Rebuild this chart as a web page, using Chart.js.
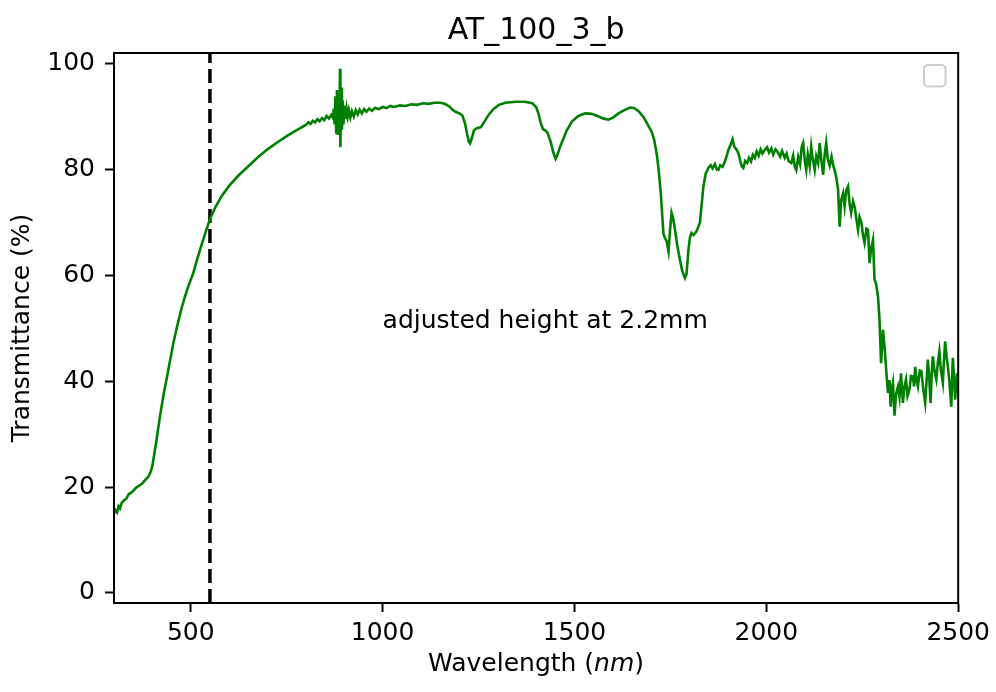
<!DOCTYPE html>
<html>
<head>
<meta charset="utf-8">
<title>AT_100_3_b</title>
<script src="https://cdn.jsdelivr.net/npm/chart.js@4.4.1/dist/chart.umd.min.js"></script>
<style>
  html, body { margin: 0; padding: 0; background: #fff; }
  canvas { display: block; }
</style>
</head>
<body>
<canvas id="grafico" width="996" height="692"></canvas>
<script>
// Dados (comprimento de onda em nm, transmitância em %)
const wavelength = [
  300, 304, 308, 312, 316, 320, 326, 332, 338, 344, 350, 358, 366, 374, 382, 390, 396,
  400, 410, 420, 430, 436, 445, 455, 465, 475, 485, 495, 506, 515, 525, 537, 550,
  565, 580, 600, 625, 650, 675, 700, 725, 750, 775,
  800, 806, 812, 818, 824, 830, 836, 842, 848, 854, 860, 866,
  870, 873, 875, 877, 879, 881, 883, 885, 887, 889, 890, 892, 894, 896, 898, 900,
  903, 906, 909, 912, 916, 920, 925, 930, 935, 940, 946, 952, 958, 965, 972, 980, 990,
  1000, 1010, 1020, 1030, 1045, 1060, 1075, 1090, 1105, 1120, 1135, 1150, 1162, 1174,
  1182, 1190, 1200, 1208, 1215, 1220, 1225, 1228, 1232, 1238, 1246, 1256, 1265, 1277,
  1290, 1303, 1320, 1347, 1370, 1390, 1400, 1406, 1412, 1418, 1424, 1430, 1438, 1445,
  1451, 1456, 1462, 1470, 1480, 1494, 1510, 1528, 1545, 1563, 1576, 1589, 1600, 1615,
  1630, 1645, 1655, 1667, 1680, 1690, 1702, 1708, 1715, 1720, 1725, 1729, 1732, 1736,
  1740, 1745, 1749, 1753, 1757, 1762, 1768, 1775, 1781, 1788, 1792, 1797, 1801, 1805,
  1810, 1818, 1823, 1827, 1831, 1836, 1842, 1849, 1855, 1860, 1866, 1871, 1875, 1880,
  1886, 1892, 1897, 1901, 1906, 1912, 1917, 1922, 1927, 1932, 1936, 1940, 1945, 1950,
  1955, 1960, 1965, 1970, 1975, 1980, 1985, 1990, 1996, 2002, 2007, 2013, 2018, 2024,
  2031, 2036, 2041, 2048, 2053, 2058, 2065, 2070, 2074, 2078, 2083, 2088, 2092, 2096,
  2100, 2104, 2108, 2113, 2117, 2121, 2126, 2130, 2135, 2139, 2143, 2148, 2152, 2156,
  2160, 2165, 2170, 2174, 2178, 2183, 2187, 2191, 2195, 2200, 2204, 2208, 2213, 2217,
  2221, 2226, 2230, 2235, 2239, 2243, 2248, 2252, 2256, 2261, 2265, 2269, 2273, 2278,
  2282, 2286, 2291, 2295, 2299, 2304, 2308, 2313, 2317, 2321, 2324, 2327, 2330, 2334,
  2338, 2343, 2347, 2351, 2356, 2360, 2364, 2368, 2373, 2377, 2382, 2385, 2388, 2392,
  2395, 2400, 2404, 2409, 2414, 2418, 2421, 2425, 2428, 2431, 2434, 2438, 2443, 2447,
  2451, 2455, 2460, 2463, 2466, 2470, 2473, 2477, 2482, 2486, 2489, 2492, 2495, 2497, 2500
];

const transmittance = [
  15.0, 15.6, 15.2, 16.4, 16.0, 17.0, 17.5, 17.8, 18.6, 18.9, 19.3, 19.9, 20.3, 20.7, 21.4, 22.0, 23.0,
  24.0, 28.5, 33.5, 37.8, 40.0, 43.5, 47.3, 50.5, 53.5, 56.0, 58.2, 60.3, 62.6, 65.0, 67.8, 70.6,
  73.0, 74.9, 76.9, 78.9, 80.6, 82.3, 83.8, 85.1, 86.3, 87.4,
  88.4, 88.9, 88.6, 89.2, 88.9, 89.5, 89.1, 89.7, 89.3, 90.1, 89.6, 90.3,
  89.8, 91.5, 88.5, 93.8, 87.0, 95.0, 86.5, 94.5, 88.0, 99.0, 84.2, 95.5, 87.5, 93.0, 88.5, 92.0,
  89.5, 91.5, 90.0, 91.2, 89.8, 91.0, 90.0, 91.2, 90.4, 91.3, 90.6, 91.4, 90.9, 91.5, 91.1, 91.6, 91.4,
  91.8, 91.6, 92.0, 91.8, 92.1, 92.0, 92.3, 92.2, 92.5, 92.4, 92.6, 92.6, 92.4, 91.9,
  91.3, 90.9, 90.6, 90.2, 88.6, 86.8, 85.2, 84.9, 85.8, 87.4, 87.8, 88.0, 89.0, 90.4,
  91.5, 92.2, 92.6, 92.8, 92.8, 92.5, 91.8, 90.6, 88.8, 87.6, 87.4, 86.9, 85.2, 83.2,
  82.0, 82.8, 84.2, 85.6, 87.4, 89.1, 90.1, 90.6, 90.5, 90.0, 89.6, 89.4, 89.8, 90.6,
  91.2, 91.7, 91.6, 91.0, 89.9, 88.6, 87.0, 85.5, 82.6, 79.5, 75.5, 71.0, 67.8, 67.0,
  66.5, 64.5, 68.5, 71.8, 70.8, 68.6, 65.6, 62.9, 60.8, 59.5, 60.2, 64.8, 67.2, 68.0,
  67.6, 68.3, 69.2, 70.0, 73.0, 76.8, 79.2, 80.3, 80.8, 80.2, 81.0, 80.0, 79.9, 80.8,
  80.5, 81.5, 82.6, 83.7, 84.5, 85.7, 84.2, 83.8, 83.1, 81.6, 80.6, 80.3, 81.6, 81.2,
  82.2, 81.5, 82.8, 82.2, 83.4, 82.6, 83.8, 83.0, 83.7, 84.2, 83.2, 84.0, 82.8, 83.8,
  83.1, 82.4, 83.5, 82.2, 83.0, 81.6, 81.2, 82.6, 80.6, 79.9, 82.4, 81.0, 84.2, 85.0,
  81.8, 79.9, 82.8, 80.6, 84.3, 82.0, 79.9, 82.5, 81.2, 85.0, 82.0, 79.0, 82.8, 85.0,
  82.0, 80.7, 82.4, 80.8, 79.9, 78.2, 76.2, 69.2, 74.2, 75.5, 73.0, 76.0, 76.8, 73.5,
  71.8, 74.0, 73.0, 70.5, 68.6, 71.0, 69.9, 67.5, 66.1, 68.8, 68.6, 62.3, 65.0, 66.7,
  59.2, 58.4, 56.0, 51.6, 43.4, 49.7, 46.6, 41.5, 37.8, 40.2, 35.2, 38.5, 39.7, 33.5,
  37.5, 39.0, 37.0, 41.5, 35.9, 39.0, 40.3, 37.2, 38.4, 41.0, 40.9, 39.0, 42.7, 40.0,
  39.0, 42.0, 41.9, 38.5, 35.9, 40.5, 44.1, 40.0, 35.9, 41.5, 44.7, 42.0, 40.3, 43.5,
  45.6, 42.0, 39.7, 44.0, 47.5, 44.5, 42.8, 40.0, 35.2, 44.4, 41.0, 36.5, 39.5, 41.5, 37.8
];

const xTicks = [500, 1000, 1500, 2000, 2500];
const yTicks = [0, 20, 40, 60, 80, 100];
const corteNm = 550; // linha tracejada vertical
const nota = 'adjusted height at 2.2mm';
const notaX = 1000;
const notaY = 50;

const xMin = 300, xMax = 2500;
const yMin = -1.9, yMax = 102;

const FONTE = 'DejaVu Sans';
const TAM = 25; // tamanho da fonte dos rótulos
Chart.defaults.font.family = FONTE;
Chart.defaults.color = '#000';

const pontos = wavelength.map((w, i) => ({ x: w, y: transmittance[i] }));

// Desenha moldura, legenda vazia, nota e título do eixo x (com "nm" em itálico)
const extras = {
  id: 'extras',
  afterDatasetsDraw(chart) {
    const { ctx, scales } = chart;
    ctx.save();
    ctx.font = TAM + 'px ' + FONTE;
    ctx.fillStyle = '#000';
    ctx.textAlign = 'left';
    ctx.textBaseline = 'alphabetic';
    ctx.fillText(nota, scales.x.getPixelForValue(notaX), scales.y.getPixelForValue(notaY));
    ctx.restore();
  },
  afterDraw(chart) {
    const { ctx, chartArea: a } = chart;
    ctx.save();
    // legenda vazia
    const lw = 21.5, lh = 21.5, r = 4;
    const lx = a.right - 12.7 - lw, ly = a.top + 12;
    ctx.beginPath();
    ctx.roundRect(lx, ly, lw, lh, r);
    ctx.fillStyle = 'rgba(255,255,255,0.8)';
    ctx.fill();
    ctx.strokeStyle = '#cccccc';
    ctx.lineWidth = 2;
    ctx.stroke();

    // moldura
    ctx.strokeStyle = '#000';
    ctx.lineWidth = 2;
    ctx.strokeRect(a.left, a.top, a.right - a.left, a.bottom - a.top);

    // título eixo x
    const p1 = 'Wavelength (', p2 = 'nm', p3 = ')';
    ctx.fillStyle = '#000';
    ctx.textBaseline = 'alphabetic';
    ctx.textAlign = 'left';
    ctx.font = TAM + 'px ' + FONTE;
    const w1 = ctx.measureText(p1).width, w3 = ctx.measureText(p3).width;
    ctx.font = 'italic ' + TAM + 'px ' + FONTE;
    const w2 = ctx.measureText(p2).width;
    const x0 = (a.left + a.right) / 2 - (w1 + w2 + w3) / 2;
    const yb = 671;
    ctx.font = TAM + 'px ' + FONTE;
    ctx.fillText(p1, x0, yb);
    ctx.font = 'italic ' + TAM + 'px ' + FONTE;
    ctx.fillText(p2, x0 + w1, yb);
    ctx.font = TAM + 'px ' + FONTE;
    ctx.fillText(p3, x0 + w1 + w2, yb);
    ctx.restore();
  }
};

const ctx = document.getElementById('grafico').getContext('2d');
const chart = new Chart(ctx, {
  type: 'line',
  data: {
    datasets: [
      {
        data: pontos,
        borderColor: '#008000',
        borderWidth: 2.6,
        pointRadius: 0,
        tension: 0,
        fill: false
      },
      {
        data: [{ x: corteNm, y: yMin }, { x: corteNm, y: yMax }],
        borderColor: '#000',
        borderWidth: 3.5,
        borderDash: [14, 6],
        pointRadius: 0,
        fill: false
      }
    ]
  },
  plugins: [extras],
  options: {
    responsive: false,
    animation: false,
    layout: { padding: { top: 0, left: 0, right: 35, bottom: 0 } },
    plugins: {
      legend: { display: false },
      tooltip: { enabled: false },
      title: {
        display: true,
        text: 'AT_100_3_b',
        fullSize: false,
        font: { size: 30, weight: 'normal', lineHeight: 1.2 },
        color: '#000',
        padding: { top: 13, bottom: 4 }
      }
    },
    scales: {
      x: {
        type: 'linear',
        min: xMin,
        max: xMax,
        afterFit(scale) { scale.height = 89; },
        afterBuildTicks(scale) { scale.ticks = xTicks.map(v => ({ value: v })); },
        ticks: {
          font: { size: TAM },
          color: '#000',
          padding: 6,
          maxRotation: 0,
          autoSkip: false,
          callback: v => String(v)
        },
        grid: {
          drawOnChartArea: false,
          drawTicks: true,
          tickLength: 9,
          tickWidth: 2,
          tickColor: '#000'
        },
        border: { display: true, color: '#000', width: 2 }
      },
      y: {
        type: 'linear',
        min: yMin,
        max: yMax,
        afterFit(scale) { scale.width = 114; },
        afterBuildTicks(scale) { scale.ticks = yTicks.map(v => ({ value: v })); },
        ticks: {
          font: { size: TAM },
          color: '#000',
          padding: 10,
          autoSkip: false,
          callback: v => String(v)
        },
        grid: {
          drawOnChartArea: false,
          drawTicks: true,
          tickLength: 9,
          tickWidth: 2,
          tickColor: '#000'
        },
        border: { display: true, color: '#000', width: 2 },
        title: {
          display: true,
          text: 'Transmittance (%)',
          font: { size: TAM },
          color: '#000',
          padding: { top: 7, bottom: 0 }
        }
      }
    }
  }
});
</script>
</body>
</html>
